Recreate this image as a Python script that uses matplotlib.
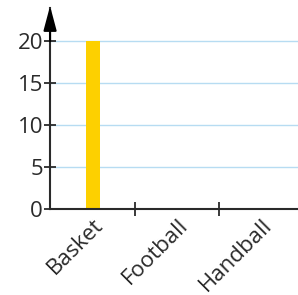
import matplotlib.pyplot as plt

sports = ["Basket", "Football", "Handball"]
counts = [20, 0, 0]
yticks = [0, 5, 10, 15, 20]

plt.rcParams['font.family'] = ['Open Sans', 'DejaVu Sans']

fig = plt.figure(figsize=(2.98, 2.95), dpi=100)
ax = fig.add_axes([0.168, 0.292, 0.832, 0.682])

x = list(range(len(sports)))
ax.bar(x, counts, width=0.16, color='#fdd000', zorder=2)

ax.set_xlim(-0.512, 2.44)
ax.set_ylim(0, 24)

for y in yticks[1:]:
    ax.axhline(y, color='#b7dcf2', lw=1, zorder=1)

for side in ['top', 'right']:
    ax.spines[side].set_visible(False)
for side in ['left', 'bottom']:
    ax.spines[side].set_color('#2a2a2a')
    ax.spines[side].set_linewidth(1.5)

ax.set_yticks(yticks)
ax.set_yticklabels([str(v) for v in yticks], fontsize=16, color='#2a2a2a')
ax.tick_params(axis='y', direction='inout', length=9, width=1.3, pad=0.5, color='#2a2a2a')

ax.set_xticks(x)
ax.set_xticklabels(sports, fontsize=16, color='#2a2a2a', rotation=45,
                   ha='right', va='top', rotation_mode='anchor')
ax.tick_params(axis='x', length=0, pad=4)
ax.set_xticks([0.5, 1.5], minor=True)
ax.tick_params(axis='x', which='minor', direction='inout', length=10, width=1.3, color='#2a2a2a')

# arrow on the y axis
ax.annotate('', xy=(-0.512, 24.2), xytext=(-0.512, 20),
            arrowprops=dict(arrowstyle='-|>,head_length=1.5,head_width=0.4',
                            color='black', lw=1.5, shrinkA=0, shrinkB=0),
            annotation_clip=False)

fig.savefig('out.png', dpi=100)
